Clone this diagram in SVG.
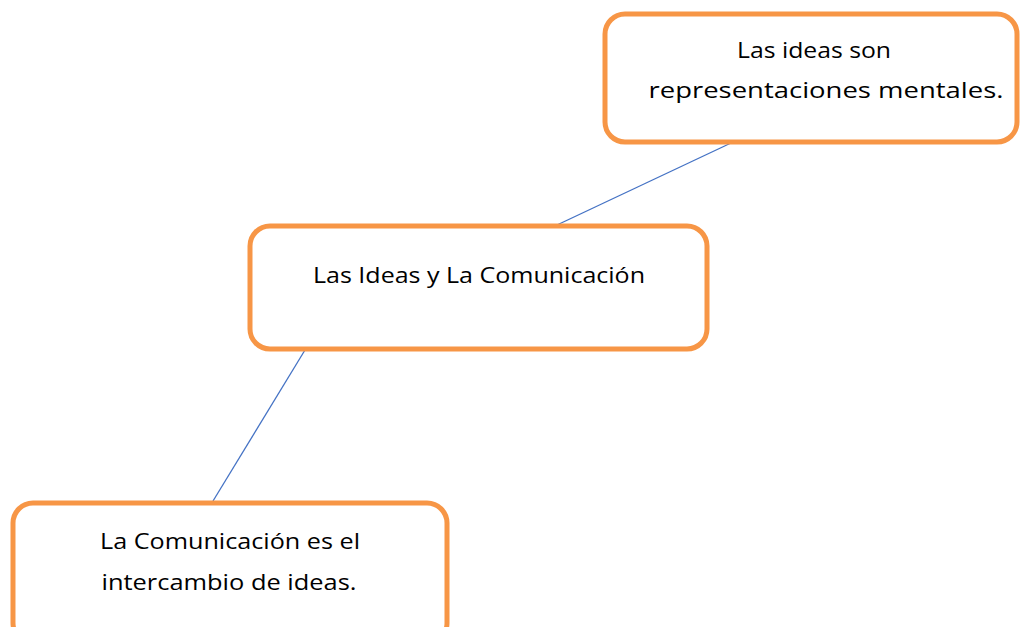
<svg xmlns="http://www.w3.org/2000/svg" width="1021" height="627" viewBox="0 0 1021 627">
<style>
.box{fill:#fff;stroke:#F79646;stroke-width:5}
.t{font-family:"Open Sans","Liberation Sans",sans-serif;font-size:21px;fill:#000;text-anchor:middle}
.c{stroke:#4472C4;stroke-width:1.3;fill:none}
</style>
<rect width="1021" height="627" fill="#fff"/>
<g id="connectors">
<line class="c" x1="557" y1="225" x2="731" y2="143"/>
<line class="c" x1="305" y1="350" x2="213" y2="501"/>
</g>
<g id="node-ideas">
<rect class="box" x="605" y="14" width="412" height="128" rx="20"/>
<text class="t" x="814" y="58" textLength="154" lengthAdjust="spacingAndGlyphs">Las ideas son</text>
<text class="t" x="826" y="98" textLength="355" lengthAdjust="spacingAndGlyphs">representaciones mentales.</text>
</g>
<g id="node-main">
<rect class="box" x="250" y="226" width="457" height="123" rx="20"/>
<text class="t" x="479" y="283" textLength="332" lengthAdjust="spacingAndGlyphs">Las Ideas y La Comunicación</text>
</g>
<g id="node-comunicacion">
<rect class="box" x="13" y="503" width="434" height="140" rx="20"/>
<text class="t" x="230" y="549" textLength="260" lengthAdjust="spacingAndGlyphs">La Comunicación es el</text>
<text class="t" x="229" y="590" textLength="255" lengthAdjust="spacingAndGlyphs">intercambio de ideas.</text>
</g>
</svg>
